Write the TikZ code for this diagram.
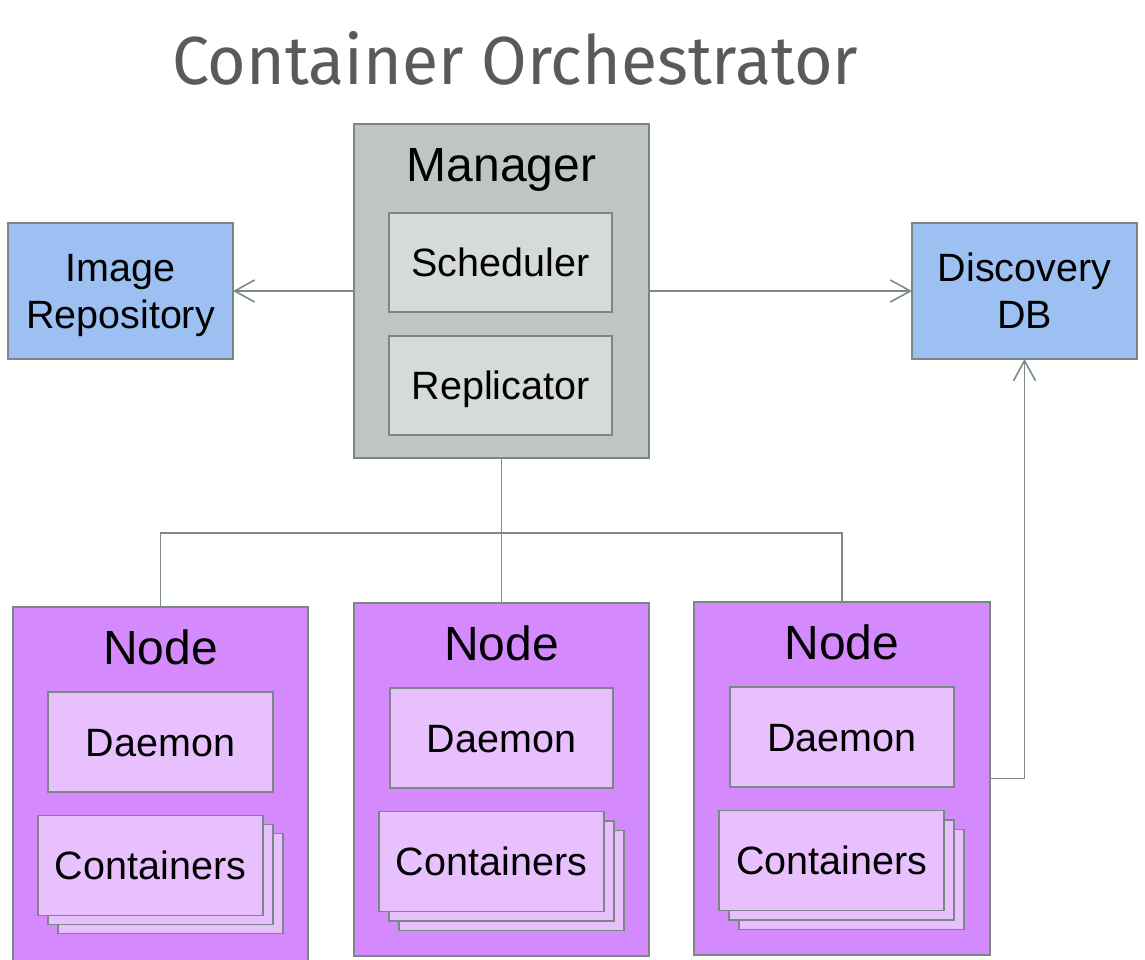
\documentclass[tikz,border=0pt]{standalone}
\usepackage{fontspec}
\setmainfont{Liberation Sans}
\newfontfamily\titlefont{Fira Sans}
\usetikzlibrary{arrows.meta}
\definecolor{bordc}{HTML}{7A8784}
\definecolor{linec}{HTML}{7D8A88}
\definecolor{bluef}{HTML}{9CC0F1}
\definecolor{purpf}{HTML}{D48AFC}
\definecolor{lpurpf}{HTML}{E8C0FE}
\definecolor{mgrf}{HTML}{BFC5C5}
\definecolor{innerf}{HTML}{D6DADB}
\definecolor{titlec}{HTML}{5A5A5A}
\tikzset{
  box/.style={draw=bordc, line width=1.6pt, inner sep=0pt, outer sep=0pt},
  bigtext/.style={font=\fontsize{48}{56}\selectfont, inner sep=0pt, anchor=base},
  smalltxt/.style={font=\fontsize{39.5}{47}\selectfont, text height=28.3pt, text depth=0pt, align=center},
  twoline/.style={font=\fontsize{39.5}{47}\selectfont, text height=75.3pt, text depth=0pt, align=center},
  conn/.style={draw=linec, line width=1.6pt},
  arr/.style={conn, -{Straight Barb[length=20pt,width=22pt]}},
}
\begin{document}
\begin{tikzpicture}[x=1pt,y=-1pt]
\useasboundingbox (0,0) rectangle (1145,960);
% title
\node[anchor=base west, inner sep=0pt, text=titlec, font=\titlefont\fontsize{68}{80}\selectfont] (title) at (172,85) {\resizebox{686pt}{\height}{Container Orchestrator}};
% manager
\node[box, fill=mgrf, minimum width=295pt, minimum height=334pt] (mgr) at (501.5,291) {};
\node[bigtext] (mgrlab) at (501.5,182) {Manager};
\node[box, fill=innerf, minimum width=223pt, minimum height=99pt, smalltxt] (sched) at (500.5,262.5) {Scheduler};
\node[box, fill=innerf, minimum width=223pt, minimum height=99pt, smalltxt] (repl) at (500.5,385.5) {Replicator};
% side boxes
\node[box, fill=bluef, minimum width=225pt, minimum height=136pt, twoline] (img) at (120.5,291) {Image\\Repository};
\node[box, fill=bluef, minimum width=225pt, minimum height=136pt, twoline] (disc) at (1024.5,291) {Discovery\\DB};
% nodes
\node[box, fill=purpf, minimum width=295pt, minimum height=355pt] (n1) at (160.5,784.5) {};
\node[box, fill=purpf, minimum width=295pt, minimum height=353pt] (n2) at (501.5,779.5) {};
\node[box, fill=purpf, minimum width=296pt, minimum height=353pt] (n3) at (842,778.5) {};
\node[bigtext] (n1lab) at (160.5,664) {Node};
\node[bigtext] (n2lab) at (501.5,660) {Node};
\node[bigtext] (n3lab) at (842,659) {Node};
% daemons
\node[box, fill=lpurpf, minimum width=225pt, minimum height=100pt, smalltxt] (d1) at (160.5,742) {Daemon};
\node[box, fill=lpurpf, minimum width=223pt, minimum height=100pt, smalltxt] (d2) at (501.5,738) {Daemon};
\node[box, fill=lpurpf, minimum width=224pt, minimum height=100pt, smalltxt] (d3) at (842,737) {Daemon};
% containers stacks
\node[box, fill=lpurpf, minimum width=225pt, minimum height=100pt] (c1c) at (170.5,883.5) {};
\node[box, fill=lpurpf, minimum width=225pt, minimum height=100pt] (c1b) at (160.5,874.5) {};
\node[box, fill=lpurpf, minimum width=225pt, minimum height=100pt, smalltxt] (c1a) at (150.5,865.5) {Containers};
\node[box, fill=lpurpf, minimum width=225pt, minimum height=100pt] (c2c) at (511.5,880.5) {};
\node[box, fill=lpurpf, minimum width=225pt, minimum height=100pt] (c2b) at (501.5,871) {};
\node[box, fill=lpurpf, minimum width=225pt, minimum height=100pt, smalltxt] (c2a) at (491.5,861.5) {Containers};
\node[box, fill=lpurpf, minimum width=225pt, minimum height=100pt] (c3c) at (851.5,879.5) {};
\node[box, fill=lpurpf, minimum width=225pt, minimum height=100pt] (c3b) at (841.5,870) {};
\node[box, fill=lpurpf, minimum width=225pt, minimum height=100pt, smalltxt] (c3a) at (831.5,860.5) {Containers};
% connectors
\draw[arr] (mgr.west |- img.east) -- (img.east);
\draw[arr] (mgr.east |- disc.west) -- (disc.west);
\draw[conn] (mgr.south) -- (n2.north);
\draw[conn] (n1.north) -- ++(0,-74) -| (n3.north);
\draw[arr] (n3.east) -| (disc.south);
\end{tikzpicture}
\end{document}
